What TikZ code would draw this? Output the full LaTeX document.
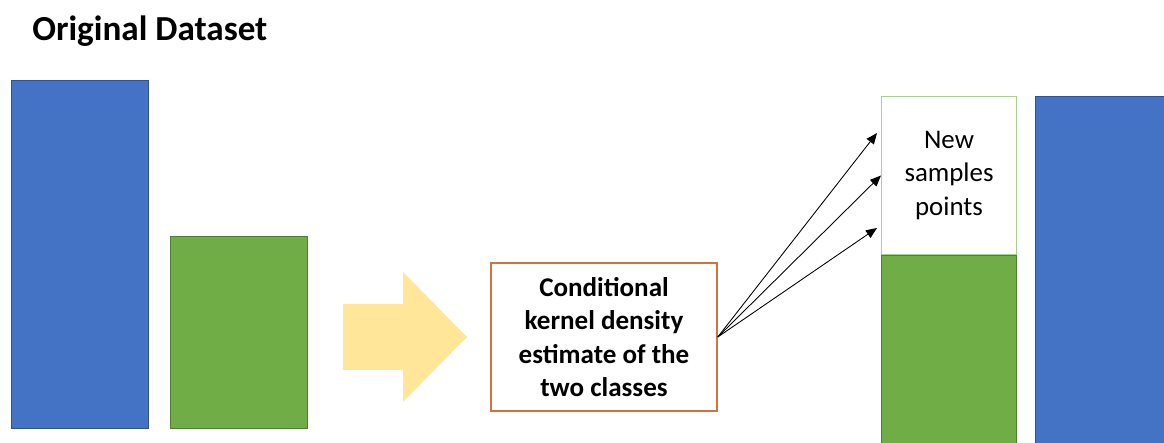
\documentclass[tikz,border=0pt]{standalone}
\usepackage{fontspec}
\setmainfont{Carlito}
\usetikzlibrary{positioning,arrows.meta}
\definecolor{barblue}{HTML}{4472C4}
\definecolor{barblueline}{HTML}{2F528F}
\definecolor{bargreen}{HTML}{70AD47}
\definecolor{bargreenline}{HTML}{507E32}
\definecolor{samplegreen}{HTML}{A9D18E}
\definecolor{kdeorange}{HTML}{D0743A}
\definecolor{arrowyellow}{HTML}{FFE699}
\tikzset{bluebar/.style={rectangle, fill=barblue, draw=barblueline, line width=0.6pt, inner sep=0pt, minimum width=2.74cm},
  greenbar/.style={rectangle, fill=bargreen, draw=bargreenline, line width=0.6pt, inner sep=0pt, minimum width=2.74cm},
  kdebox/.style={rectangle, draw=kdeorange, fill=white, line width=0.9pt, inner sep=0pt, minimum width=4.52cm, minimum height=2.96cm, align=center, font=\bfseries\fontsize{15.4}{19}\selectfont},
  samplebox/.style={rectangle, draw=samplegreen, fill=white, line width=0.6pt, inner sep=0pt, minimum width=2.70cm, minimum height=3.16cm, align=center, font=\fontsize{15.3}{19.3}\selectfont},
  spray/.style={-{Triangle[length=2.2mm, width=1.8mm]}, line width=0.5pt}}

\begin{document}
\begin{tikzpicture}
    \useasboundingbox (0,0) rectangle (23.28,8.86);
    \clip (0,0) rectangle (23.28,8.86);
    \node[anchor=base west, inner sep=0pt, font=\bfseries\fontsize{20}{24}\selectfont] (title) at (0.64,8.04) {Original Dataset};
    % original classes
    \node[bluebar, minimum height=6.96cm, anchor=south west] (blueA) at (0.22,0.28) {};
    \node[greenbar, minimum height=3.84cm, right=0.42cm of blueA.south east, anchor=south west] (greenA) {};
    % big arrow
    \fill[arrowyellow] (6.86,1.46) -- (8.06,1.46) -- (8.06,0.82) -- (9.34,2.12)
      -- (8.06,3.42) -- (8.06,2.78) -- (6.86,2.78) -- cycle;
    \node[kdebox] (kde) at (12.08,2.12) {Conditional\\kernel density\\estimate of the\\two classes};
    % resampled classes
    \node[samplebox, anchor=south west] (new) at (17.62,3.76) {New\\samples\\points};
    \node[greenbar, minimum width=2.70cm, minimum height=4.2cm, anchor=north west] (greenB) at (new.south west) {};
    \node[bluebar, minimum height=7.4cm, anchor=north west] (blueB) at (20.70,6.94) {};
    \coordinate (tipA) at (17.54,6.20);
    \coordinate (tipC) at (17.54,4.30);
    \draw[spray] (kde.east) -- (tipA);
    \draw[spray] (kde.east) -- (new.west);
    \draw[spray] (kde.east) -- (tipC);
\end{tikzpicture}
\end{document}
